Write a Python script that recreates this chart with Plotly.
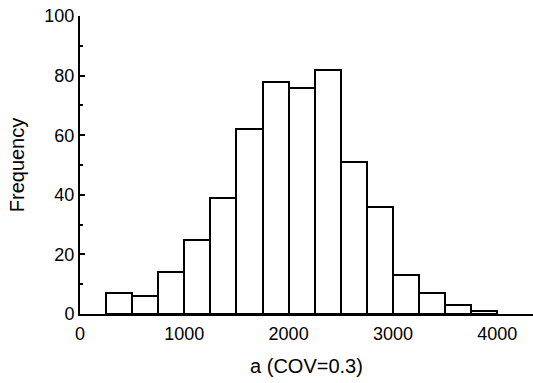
import plotly.graph_objects as go

bin_starts = [250, 500, 750, 1000, 1250, 1500, 1750, 2000, 2250, 2500, 2750, 3000, 3250, 3500, 3750]
bin_width = 250
counts = [7, 6, 14, 25, 39, 62, 78, 76, 82, 51, 36, 13, 7, 3, 1]
x_ticks = [0, 1000, 2000, 3000, 4000]
y_ticks = [0, 20, 40, 60, 80, 100]

centers = [s + bin_width / 2 for s in bin_starts]

fig = go.Figure(go.Bar(
    x=centers, y=counts, width=[bin_width] * len(counts),
    marker=dict(color="white", line=dict(color="black", width=2)),
))

tick_font = dict(family="Liberation Sans, Arial, sans-serif", size=18, color="black")
title_font = dict(family="Liberation Sans, Arial, sans-serif", size=20, color="black")
fig.update_layout(
    width=533, height=383,
    margin=dict(l=80, r=0, t=16, b=69),
    plot_bgcolor="white", paper_bgcolor="white",
    showlegend=False, font=tick_font, bargap=0,
)
fig.update_xaxes(
    range=[0, 4343], tickvals=x_ticks, ticks="", showgrid=False, zeroline=False,
    showline=True, linecolor="black", linewidth=2, ticklabelstandoff=2,
    title=dict(text="a (COV=0.3)", standoff=16, font=title_font), tickfont=tick_font,
)
fig.update_yaxes(
    range=[0, 100], tickvals=y_ticks, ticks="inside", ticklen=5, tickwidth=2,
    tickcolor="black", showgrid=False, zeroline=False,
    showline=True, linecolor="black", linewidth=2,
    minor=dict(tickvals=[10, 30, 50, 70, 90], ticks="inside", ticklen=3, tickwidth=2, tickcolor="black"),
    title=dict(text="Frequency", standoff=14, font=title_font), tickfont=tick_font,
)
fig.write_html("out.html")
